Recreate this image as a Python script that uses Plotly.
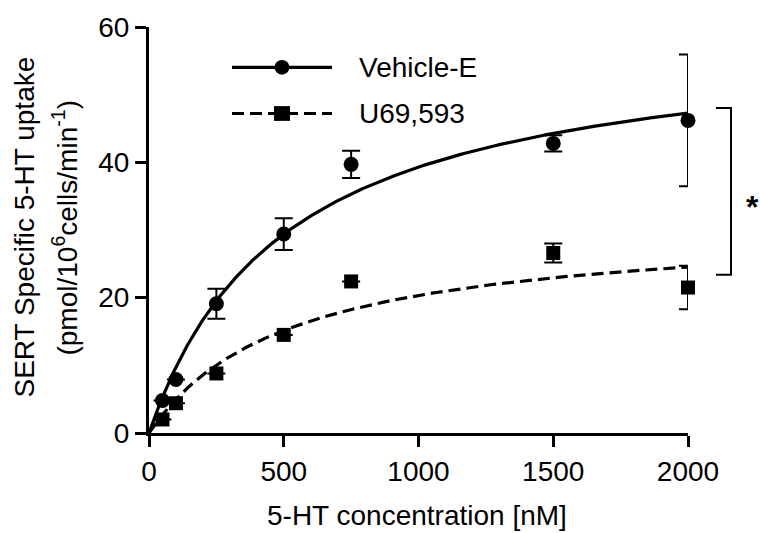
import numpy as np
import plotly.graph_objects as go

# ---- data ----
conc = [50, 100, 250, 500, 750, 1500, 2000]
vehicle_y = [4.8, 7.9, 19.1, 29.4, 39.7, 42.8, 46.2]
vehicle_err = [None, None, 2.2, 2.35, 2.0, 1.2, 9.75]
u69_y = [2.0, 4.4, 8.8, 14.5, 22.4, 26.6, 21.5]
u69_err = [None, None, None, None, None, 1.4, 3.2]

# Michaelis-Menten fit parameters (Vmax, Km) estimated from the drawn curves
vehicle_vmax, vehicle_km = 59.3, 509.0
u69_vmax, u69_km = 30.9, 520.0

x_ticks = [0, 500, 1000, 1500, 2000]
y_ticks = [0, 20, 40, 60]
legend_names = ["Vehicle-E", "U69,593"]
bracket_vals = [48.0, 23.3]

FONT = "Arial, Liberation Sans, Helvetica, sans-serif"

xfit = np.linspace(0, 2000, 401)
veh_fit = vehicle_vmax * xfit / (vehicle_km + xfit)
u69_fit = u69_vmax * xfit / (u69_km + xfit)

fig = go.Figure()

fig.add_trace(go.Scatter(x=xfit, y=veh_fit, mode="lines",
                         line=dict(color="black", width=3.2),
                         showlegend=False, hoverinfo="skip", cliponaxis=False))
fig.add_trace(go.Scatter(x=xfit, y=u69_fit, mode="lines",
                         line=dict(color="black", width=3.2, dash="12px,6px"),
                         showlegend=False, hoverinfo="skip", cliponaxis=False))

fig.add_trace(go.Scatter(
    x=conc, y=vehicle_y, mode="markers", name=legend_names[0],
    marker=dict(symbol="circle", size=15, color="black"),
    error_y=dict(type="data", array=vehicle_err, visible=True,
                 color="black", thickness=2, width=9),
    showlegend=False, cliponaxis=False))
fig.add_trace(go.Scatter(
    x=conc, y=u69_y, mode="markers", name=legend_names[1],
    marker=dict(symbol="square", size=14, color="black"),
    error_y=dict(type="data", array=u69_err, visible=True,
                 color="black", thickness=2, width=9),
    showlegend=False, cliponaxis=False))

# ---- layout geometry (pixels of a 760x533 canvas) ----
L, R, T, B = 149, 688, 20, 433
W, H = 760, 533


def px(p):
    return (p - L) / (R - L)


def py(p):
    return (B - p) / (B - T)


shapes = []
annotations = []

# manual legend (long line with centred marker)
leg_rows = [(61, "solid", "circle"), (108, "dash", "square")]
for (ypix, dash, sym), name in zip(leg_rows, legend_names):
    shapes.append(dict(type="line", xref="paper", yref="paper",
                       x0=px(232), x1=px(332), y0=py(ypix), y1=py(ypix),
                       line=dict(color="black", width=3.2,
                                 dash="solid" if dash == "solid" else "12px,6px")))
    if sym == "circle":
        shapes.append(dict(type="circle", xref="paper", yref="paper",
                           x0=px(282 - 7.5), x1=px(282 + 7.5),
                           y0=py(ypix + 7.5), y1=py(ypix - 7.5),
                           fillcolor="black", line=dict(width=0)))
    else:
        shapes.append(dict(type="rect", xref="paper", yref="paper",
                           x0=px(282 - 8), x1=px(282 + 8),
                           y0=py(ypix + 7.5), y1=py(ypix - 7.5),
                           fillcolor="black", line=dict(width=0)))
    annotations.append(dict(text=name, xref="paper", yref="paper",
                            x=px(357), y=py(ypix), xanchor="left", yanchor="middle",
                            showarrow=False,
                            font=dict(family=FONT, size=28, color="black")))

# significance bracket (values mapped onto the paper coordinates)
top_p = bracket_vals[0] / 60 * (432 - 20) / (B - T) + (B - 432) / (B - T)
bot_p = bracket_vals[1] / 60 * (432 - 20) / (B - T) + (B - 432) / (B - T)
bx0, bx1 = px(716), px(731)
shapes.append(dict(type="path", xref="paper", yref="paper",
                   path=f"M {bx0} {top_p} L {bx1} {top_p} L {bx1} {bot_p} L {bx0} {bot_p}",
                   line=dict(color="black", width=2)))
annotations.append(dict(text="<b>*</b>", xref="paper", yref="paper",
                        x=px(752), y=py(203), xanchor="center", yanchor="middle",
                        showarrow=False, font=dict(family=FONT, size=32, color="black")))

# y-axis title as two rotated lines
annotations.append(dict(text="SERT Specific 5-HT uptake", xref="paper", yref="paper",
                        x=px(25), y=py(224), xanchor="center", yanchor="middle",
                        textangle=-90, showarrow=False,
                        font=dict(family=FONT, size=28, color="black")))
annotations.append(dict(text="(pmol/10<sup>6</sup>cells/min<sup>-1</sup>)",
                        xref="paper", yref="paper",
                        x=px(65), y=py(224), xanchor="center", yanchor="middle",
                        textangle=-90, showarrow=False,
                        font=dict(family=FONT, size=28, color="black")))

# x-axis title
annotations.append(dict(text="5-HT concentration [nM]", xref="paper", yref="paper",
                        x=px(417), y=py(517), xanchor="center", yanchor="middle",
                        showarrow=False, font=dict(family=FONT, size=28, color="black")))

fig.update_layout(
    width=W, height=H,
    margin=dict(l=L, r=W - R, t=T, b=H - B),
    paper_bgcolor="white", plot_bgcolor="white",
    font=dict(family=FONT, size=28, color="black"),
    shapes=shapes, annotations=annotations,
    showlegend=False,
)
fig.update_xaxes(range=[0, 2000], tickvals=x_ticks, ticktext=[str(v) for v in x_ticks],
                 showline=True, linecolor="black", linewidth=3,
                 ticks="outside", ticklen=11, tickwidth=3, tickcolor="black",
                 showgrid=False, zeroline=False,
                 tickfont=dict(family=FONT, size=28, color="black"))
fig.update_yaxes(range=[0, 60], tickvals=y_ticks, ticktext=[str(v) for v in y_ticks],
                 showline=True, linecolor="black", linewidth=3,
                 ticks="outside", ticklen=11, tickwidth=3, tickcolor="black",
                 showgrid=False, zeroline=False,
                 tickfont=dict(family=FONT, size=28, color="black"))

fig.write_html("out.html",
               config={"displayModeBar": False},
               post_script="document.body.style.margin='0';document.body.style.overflow='hidden';")
